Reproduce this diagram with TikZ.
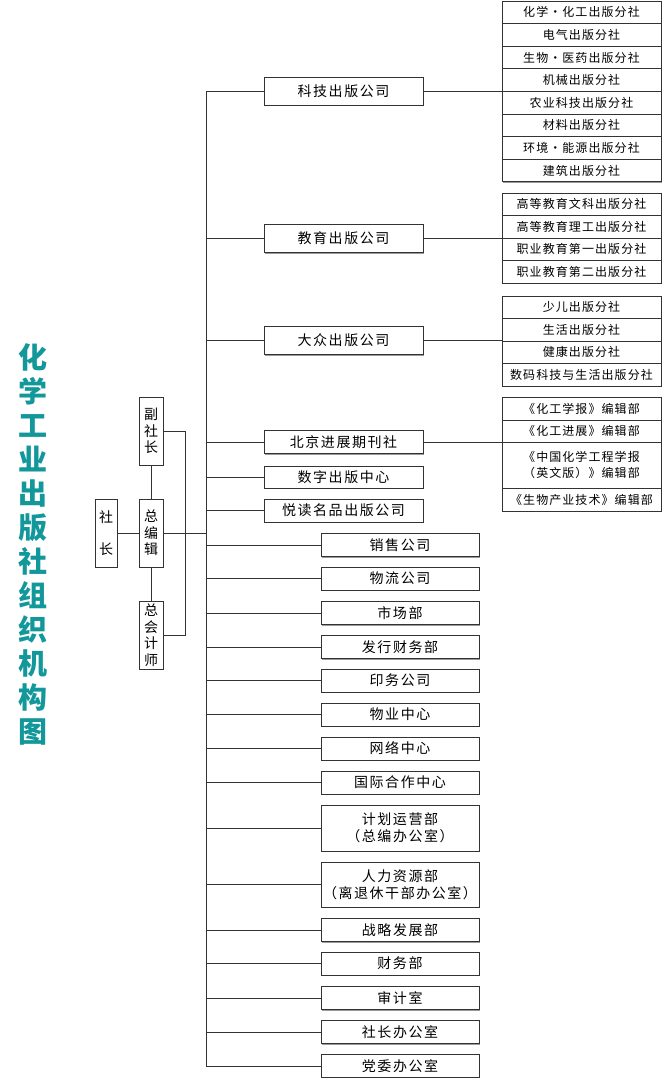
\documentclass[tikz,border=0pt]{standalone}
\usepackage{fontspec}
\usetikzlibrary{shadows}
\newfontfamily\cjk{Noto Sans CJK SC}
\newfontfamily\cjkls[LetterSpace=11]{Noto Sans CJK SC}
\newfontfamily\cjkrs[LetterSpace=9]{Noto Sans CJK SC}
\definecolor{teal1}{HTML}{12979A}
\begin{document}
\begin{tikzpicture}[x=1pt,y=-1pt,
  box/.style={draw=black!80, line width=0.9pt, fill=white, inner sep=0pt,
    drop shadow={shadow xshift=1.1pt, shadow yshift=-1.1pt, fill=black!40, opacity=1}},
  brbox/.style={box, minimum width=159pt, minimum height=28pt, font=\cjkls\fontsize{14}{16}\selectfont},
  lobox/.style={box, minimum width=158pt, minimum height=23pt, font=\cjkls\fontsize{14}{17}\selectfont, align=center},
  rbox/.style={box, minimum width=159pt, minimum height=22.6pt, font=\cjkrs\fontsize{12}{16}\selectfont, align=center},
  vbox/.style={box, minimum width=24pt, minimum height=68pt, font=\cjk\fontsize{14}{16.5}\selectfont, align=center},
  conn/.style={draw=black!80, line width=0.9pt}]
\useasboundingbox (0,0) rectangle (662,1078);
\fill[white] (0,0) rectangle (662,1078);

% title
\node[font=\cjk\bfseries\fontsize{29}{34}\selectfont, text=teal1, align=center, inner sep=0pt] (title) at (33,544)
  {化\\学\\工\\业\\出\\版\\社\\组\\织\\机\\构\\图};

% left leaders
\node[vbox, minimum width=22pt] (sz) at (106,533) {社\\[16pt]长};
\node[vbox] (fsz) at (151,431) {副\\社\\长};
\node[vbox] (zbj) at (151,533) {总\\编\\辑};
\node[vbox] (zkj) at (151,635) {总\\会\\计\\师};
\coordinate (brk) at (185,0);
\coordinate (tr) at (206,0);

% branch boxes
\node[brbox] (kj) at (343.5,91) {科技出版公司};
\node[brbox] (jy) at (343.5,238.5) {教育出版公司};
\node[brbox] (dz) at (343.5,340.5) {大众出版公司};
\node[brbox, minimum height=23pt] (bj) at (343.5,442) {北京进展期刊社};
\node[brbox, minimum height=22pt] (sz2) at (343.5,477) {数字出版中心};
\node[brbox, minimum height=23pt] (yd) at (343.5,510.5) {悦读名品出版公司};

% lower boxes
\node[lobox] (xs) at (400,545) {销售公司};
\node[lobox] (wl) at (400,578.5) {物流公司};
\node[lobox] (sc) at (400,613) {市场部};
\node[lobox] (fx) at (400,647) {发行财务部};
\node[lobox] (yw) at (400,680.5) {印务公司};
\node[lobox] (wy) at (400,714.5) {物业中心};
\node[lobox] (wlz) at (400,748.5) {网络中心};
\node[lobox] (gj) at (400,782.5) {国际合作中心};
\node[lobox, minimum height=46pt] (jh) at (400,828) {计划运营部\\（总编办公室）};
\node[lobox, minimum height=45pt] (rl) at (400,884.5) {人力资源部\\（离退休干部办公室）};
\node[lobox] (zl) at (400,930) {战略发展部};
\node[lobox] (cw) at (400,963.5) {财务部};
\node[lobox] (sj) at (400,998) {审计室};
\node[lobox] (szb) at (400,1032) {社长办公室};
\node[lobox] (dw) at (400,1066) {党委办公室};

% right groups
\node[rbox] (a1) at (581.5,12.3) {化学・化工出版分社};
\node[rbox] (a2) at (581.5,34.9) {电气出版分社};
\node[rbox] (a3) at (581.5,57.5) {生物・医药出版分社};
\node[rbox] (a4) at (581.5,80.1) {机械出版分社};
\node[rbox] (a5) at (581.5,102.7) {农业科技出版分社};
\node[rbox] (a6) at (581.5,125.3) {材料出版分社};
\node[rbox] (a7) at (581.5,147.9) {环境・能源出版分社};
\node[rbox] (a8) at (581.5,170.5) {建筑出版分社};

\node[rbox, minimum height=22.5pt] (b1) at (581.5,204.25) {高等教育文科出版分社};
\node[rbox, minimum height=22.5pt] (b2) at (581.5,226.75) {高等教育理工出版分社};
\node[rbox, minimum height=22.5pt] (b3) at (581.5,249.25) {职业教育第一出版分社};
\node[rbox, minimum height=22.5pt] (b4) at (581.5,271.75) {职业教育第二出版分社};

\node[rbox, minimum height=22.5pt] (c1) at (581.5,307.25) {少儿出版分社};
\node[rbox, minimum height=22.5pt] (c2) at (581.5,329.75) {生活出版分社};
\node[rbox, minimum height=22.5pt] (c3) at (581.5,352.25) {健康出版分社};
\node[rbox, minimum height=22.5pt] (c4) at (581.5,374.75) {数码科技与生活出版分社};

\node[rbox, minimum height=23pt] (d1) at (581.5,408.5) {《化工学报》编辑部};
\node[rbox, minimum height=22pt] (d2) at (581.5,431) {《化工进展》编辑部};
\node[rbox, minimum height=46pt] (d3) at (581.5,465) {《中国化学工程学报\\（英文版）》编辑部};
\node[rbox, minimum height=23pt] (d4) at (581.5,499.5) {《生物产业技术》编辑部};

% connectors: left
\draw[conn] (sz.east) -- (zbj.west);
\draw[conn] (fsz.south) -- (zbj.north);
\draw[conn] (zbj.south) -- (zkj.north);
\draw[conn] (fsz.east) -- (fsz.east -| brk) -- (zkj.east -| brk) -- (zkj.east);
\draw[conn] (zbj.east) -- (zbj.east -| tr);

% trunk
\draw[conn] (kj.west -| tr) -- (dw.west -| tr);
\foreach \n in {kj,jy,dz,bj,sz2,yd,xs,wl,sc,fx,yw,wy,wlz,gj,jh,rl,zl,cw,sj,szb,dw}
  \draw[conn] (\n.west -| tr) -- (\n.west);

% to right groups
\draw[conn] (kj.east) -- (kj.east -| a5.west);
\draw[conn] (jy.east) -- (jy.east -| b3.west);
\draw[conn] (dz.east) -- (dz.east -| c3.west);
\draw[conn] (bj.east) -- (bj.east -| d3.west);
\end{tikzpicture}
\end{document}
